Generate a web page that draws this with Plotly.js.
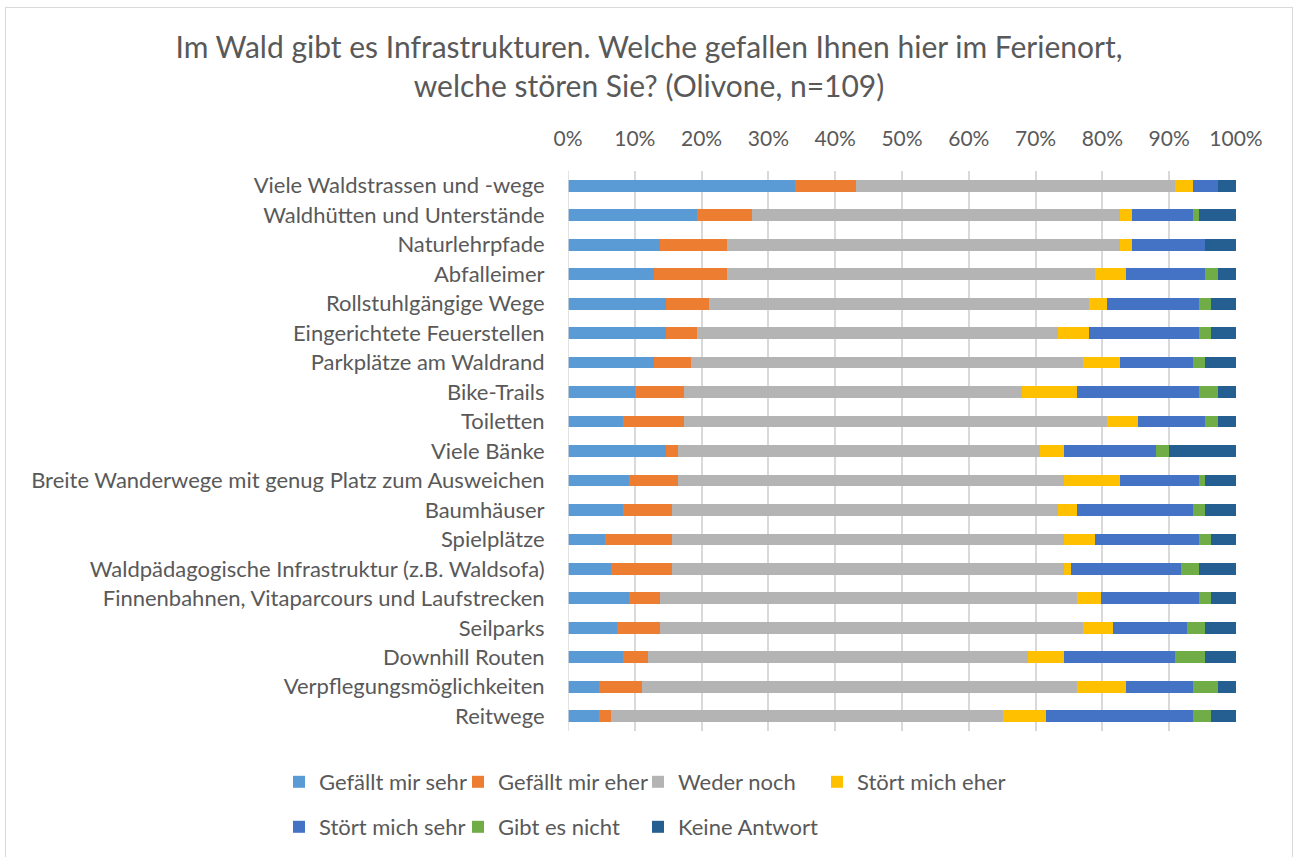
<!DOCTYPE html>
<html>
<head>
<meta charset="utf-8">
<script src="https://cdn.plot.ly/plotly-3.0.1.min.js"></script>
<style>
  body { margin: 0; background: #fff; }
  #chart { position: absolute; left: 0; top: 0; width: 1298px; height: 857px; }
  #frame { position: absolute; left: 5px; top: 7px; width: 1286px; height: 900px;
           border: 1px solid #d9d9d9; pointer-events: none; }
</style>
</head>
<body>
<div id="chart"></div>
<div id="frame"></div>
<script>
// Olivone survey, n=109 -- counts per answer, rows top to bottom
var items = [
  "Viele Waldstrassen und -wege",
  "Waldhütten und Unterstände",
  "Naturlehrpfade",
  "Abfalleimer",
  "Rollstuhlgängige Wege",
  "Eingerichtete Feuerstellen",
  "Parkplätze am Waldrand",
  "Bike-Trails",
  "Toiletten",
  "Viele Bänke",
  "Breite Wanderwege mit genug Platz zum Ausweichen",
  "Baumhäuser",
  "Spielplätze",
  "Waldpädagogische Infrastruktur (z.B. Waldsofa)",
  "Finnenbahnen, Vitaparcours und Laufstrecken",
  "Seilparks",
  "Downhill Routen",
  "Verpflegungsmöglichkeiten",
  "Reitwege"
];

var gefaelltSehr  = [37, 21, 15, 14, 16, 16, 14, 11,  9, 16, 10,  9,  6,  7, 10,  8,  9,  5,  5];
var gefaelltEher  = [10,  9, 11, 12,  7,  5,  6,  8, 10,  2,  8,  8, 11, 10,  5,  7,  4,  7,  2];
var wederNoch     = [52, 60, 64, 60, 62, 59, 64, 55, 69, 59, 63, 63, 64, 64, 68, 69, 62, 71, 64];
var stoertEher    = [ 3,  2,  2,  5,  3,  5,  6,  9,  5,  4,  9,  3,  5,  1,  4,  5,  6,  8,  7];
var stoertSehr    = [ 4, 10, 12, 13, 15, 18, 12, 20, 11, 15, 13, 19, 17, 18, 16, 12, 18, 11, 24];
var gibtEsNicht   = [ 0,  1,  0,  2,  2,  2,  2,  3,  2,  2,  1,  2,  2,  3,  2,  3,  5,  4,  3];
var keineAntwort  = [ 3,  6,  5,  3,  4,  4,  5,  3,  3, 11,  5,  5,  4,  6,  4,  5,  5,  3,  4];

var seriesNames  = ["Gefällt mir sehr", "Gefällt mir eher", "Weder noch", "Stört mich eher",
                    "Stört mich sehr", "Gibt es nicht", "Keine Antwort"];
var seriesValues = [gefaelltSehr, gefaelltEher, wederNoch, stoertEher, stoertSehr, gibtEsNicht, keineAntwort];
var seriesColors = ["#5B9BD5", "#ED7D31", "#B4B4B4", "#FFC000", "#4472C4", "#70AD47", "#255E91"];

// legend slots (Excel puts 4 entries in the first row, 3 in the second)
var legendCols = [279, 458, 638, 817, 279, 458, 638];
var legendRows = [782, 782, 782, 782, 827, 827, 827];

var font = "Lato, 'Open Sans', sans-serif";
var grey = "#595959";

var data = [];
var legends = {};
for (var i = 0; i < seriesNames.length; i++) {
  var key = i === 0 ? "legend" : "legend" + (i + 1);
  data.push({
    type: "bar",
    orientation: "h",
    name: seriesNames[i],
    x: seriesValues[i],
    y: items,
    marker: {color: seriesColors[i], line: {width: 0}},
    legend: key,
    hoverinfo: "name+x"
  });
  legends[key] = {
    orientation: "h",
    xref: "container", yref: "container",
    x: legendCols[i] / 1298, y: 1 - legendRows[i] / 857,
    xanchor: "left", yanchor: "middle",
    font: {family: font, size: 22, color: grey},
    itemclick: false,
    bgcolor: "rgba(0,0,0,0)"
  };
}

var layout = {
  width: 1298,
  height: 857,
  margin: {l: 568, r: 62, t: 171, b: 126},
  paper_bgcolor: "#fff",
  plot_bgcolor: "#fff",
  barmode: "stack",
  barnorm: "percent",
  bargap: 0.6,
  showlegend: true,
  title: {
    text: "Im Wald gibt es Infrastrukturen. Welche gefallen Ihnen hier im Ferienort,<br>welche stören Sie? (Olivone, n=109)",
    font: {family: font, size: 30, color: grey},
    x: 0.5, xref: "container", xanchor: "center",
    y: 1 - 58 / 857, yref: "container", yanchor: "top"
  },
  xaxis: {
    side: "top",
    range: [0, 100],
    dtick: 10,
    ticksuffix: "%",
    showgrid: true,
    gridcolor: "#d9d9d9",
    gridwidth: 1.5,
    zeroline: false,
    showline: false,
    ticks: "outside",
    ticklen: 16,
    tickcolor: "rgba(0,0,0,0)",
    tickfont: {family: font, size: 21, color: grey},
    fixedrange: true
  },
  yaxis: {
    type: "category",
    autorange: "reversed",
    showgrid: false,
    zeroline: false,
    showline: false,
    ticks: "outside",
    ticklen: 18,
    tickcolor: "rgba(0,0,0,0)",
    tickfont: {family: font, size: 22, color: grey},
    fixedrange: true
  },
  shapes: [{
    type: "line", xref: "x", yref: "paper",
    x0: 0, x1: 0, y0: 0, y1: 1,
    line: {color: "#d9d9d9", width: 1.5}
  }]
};
Object.assign(layout, legends);

Plotly.newPlot("chart", data, layout, {displayModeBar: false});
</script>
</body>
</html>
